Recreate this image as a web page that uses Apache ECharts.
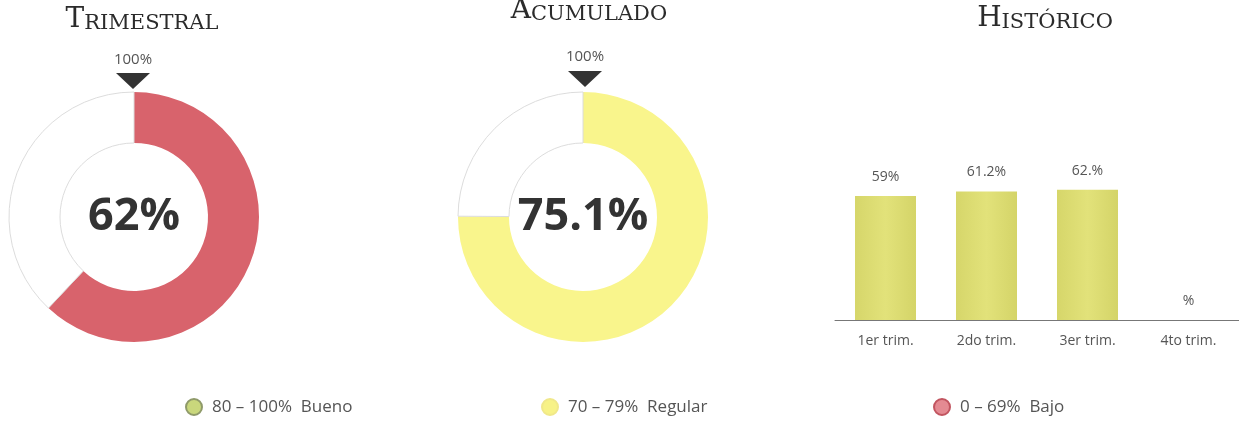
<!DOCTYPE html>
<html>
<head>
<meta charset="utf-8">
<style>
  html, body { margin: 0; padding: 0; background: #fff; }
  #main { width: 1239px; height: 421px; }
</style>
<script src="https://cdn.jsdelivr.net/npm/echarts@6.0.0/dist/echarts.min.js"></script>
</head>
<body>
<div id="main"></div>
<script>
// datos
var trimestral = 62;
var acumulado = 75.1;
var trimestres = ['1er trim.', '2do trim.', '3er trim.', '4to trim.'];
var historico = [59, 61.2, 62, 0];
var etiquetasHist = ['59%', '61.2%', '62.%', '%'];
var rangos = ['80 – 100%  Bueno', '70 – 79%  Regular', '0 – 69%  Bajo'];

var chart = echarts.init(document.getElementById('main'));

var fuente = '"Open Sans", "DejaVu Sans", sans-serif';
var serif = '"DejaVu Serif", "Liberation Serif", serif';

// titulo en versalitas (primera letra grande)
function titulo(x, y, texto) {
    return {
        type: 'text', x: x, y: y,
        style: {
            text: '{a|' + texto.charAt(0) + '}{b|' + texto.slice(1) + '}',
            align: 'center', verticalAlign: 'middle',
            rich: {
                a: { fontFamily: serif, fontSize: 28, fill: '#2b2b2b', verticalAlign: 'bottom' },
                b: { fontFamily: serif, fontSize: 21, fill: '#2b2b2b', verticalAlign: 'bottom' }
            }
        }
    };
}

// marcador 100% sobre la dona
function marcador(x, yTxt, yTri) {
    return [{
        type: 'text', x: x, y: yTxt,
        style: { text: '100%', align: 'center', verticalAlign: 'middle',
                 fontFamily: fuente, fontSize: 15, fill: '#555' }
    }, {
        type: 'polygon',
        shape: { points: [[x - 17, yTri], [x + 17, yTri], [x, yTri + 16]] },
        style: { fill: '#333' }
    }];
}

// leyenda inferior
function leyenda(x, y, texto, c1, c2) {
    return [{
        type: 'circle', shape: { cx: x, cy: y, r: 8 },
        style: { fill: c1, stroke: c2, lineWidth: 2 }
    }, {
        type: 'text', x: x + 18, y: y,
        style: { text: texto, verticalAlign: 'middle',
                 fontFamily: fuente, fontSize: 17, fill: '#555' }
    }];
}

function dona(centro, valor, color) {
    return {
        type: 'pie',
        center: centro,
        radius: [74, 125],
        startAngle: 90,
        silent: true,
        label: { show: false },
        labelLine: { show: false },
        data: [{
            value: valor,
            itemStyle: { color: color },
            label: {
                show: true, position: 'center',
                formatter: valor + '%',
                fontFamily: fuente, fontWeight: 'bold', fontSize: 45, color: '#333'
            }
        }, {
            value: 100 - valor,
            itemStyle: { color: '#fff', borderColor: '#dcdcdc', borderWidth: 1 }
        }]
    };
}

var graficos = [
    titulo(142, 20, 'TRIMESTRAL'),
    titulo(589, 11, 'ACUMULADO'),
    titulo(1045, 19, 'HISTÓRICO')
].concat(
    marcador(133, 60, 73),
    marcador(585, 57, 71),
    leyenda(194, 407, rangos[0], '#c9d77c', '#8f9a6a'),
    leyenda(550, 407, rangos[1], '#f7f287', '#f0e88a'),
    leyenda(942, 407, rangos[2], '#e48a92', '#c25560')
);

chart.setOption({
    animation: false,
    graphic: graficos,
    grid: { left: 835, right: 0, top: 110, bottom: 101 },
    xAxis: {
        type: 'category',
        data: trimestres,
        axisLine: { lineStyle: { color: '#777' } },
        axisTick: { length: 6, lineStyle: { color: '#777' } },
        axisLabel: { margin: 14, fontFamily: fuente, fontSize: 14, color: '#555' }
    },
    yAxis: { type: 'value', min: 0, max: 100, show: false },
    series: [
        dona([134, 217], trimestral, '#d8636c'),
        dona([583, 217], acumulado, '#f9f58c'),
        {
            type: 'bar',
            data: historico,
            barWidth: 61,
            silent: true,
            itemStyle: {
                color: new echarts.graphic.LinearGradient(0, 0, 1, 0, [
                    { offset: 0, color: '#d6d66a' },
                    { offset: 0.5, color: '#e2e27a' },
                    { offset: 1, color: '#d4d468' }
                ])
            },
            label: {
                show: true, position: 'top', distance: 12,
                fontFamily: fuente, fontSize: 14, color: '#555',
                formatter: function (p) { return etiquetasHist[p.dataIndex]; }
            }
        }
    ]
});
</script>
</body>
</html>
